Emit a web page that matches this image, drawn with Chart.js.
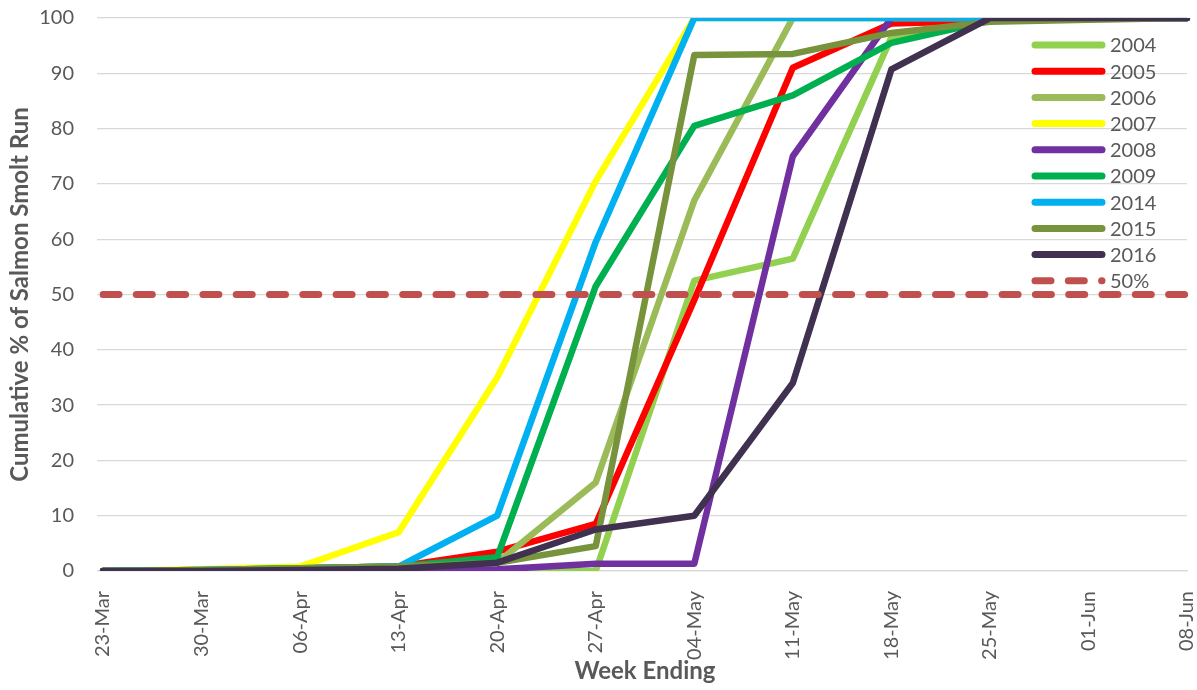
<!DOCTYPE html>
<html>
<head>
<meta charset="utf-8">
<script src="https://cdn.jsdelivr.net/npm/chart.js@4/dist/chart.umd.min.js"></script>
<style>
  html, body { margin: 0; padding: 0; background: #fff; }
  #wrap { width: 1197px; height: 690px; position: relative; }
</style>
</head>
<body>
<div id="wrap"><canvas id="smoltChart"></canvas></div>
<script>
var weeks = ["23-Mar", "30-Mar", "06-Apr", "13-Apr", "20-Apr", "27-Apr",
             "04-May", "11-May", "18-May", "25-May", "01-Jun", "08-Jun"];

var run2004 = [0, 0, 0, 0, 0, 0, 52.5, 56.5, 96.5, 99.5, 100, 100];
var run2005 = [0, 0.2, 0.5, 0.8, 3.5, 8.5, 49, 91, 99, 99.5, 100, 100];
var run2006 = [0, 0.2, 0.5, 0.8, 1.5, 16, 67, 100, 100, 100, 100, 100];
var run2007 = [0, 0.3, 0.8, 7, 35, 70.5, 100, 100, 100, 100, 100, 100];
var run2008 = [0, 0, 0, 0, 0.3, 1.3, 1.3, 75, 100, 100, 100, 100];
var run2009 = [0, 0.2, 0.5, 0.8, 2.5, 51.5, 80.5, 86, 95.5, 99.5, 100, 100];
var run2014 = [0, 0.2, 0.5, 0.8, 10, 59.5, 100, 100, 100, 100, 100, 100];
var run2015 = [0, 0.2, 0.5, 0.8, 1.5, 4.5, 93.3, 93.5, 97.3, 99.3, 99.7, 100];
var run2016 = [0, 0, 0.2, 0.4, 1.5, 7.5, 10, 34, 90.7, 100, 100, 100];
var halfRun = [50, 50, 50, 50, 50, 50, 50, 50, 50, 50, 50, 50];

var yTicks = [0, 10, 20, 30, 40, 50, 60, 70, 80, 90, 100];

var seriesLabels = ["2004", "2005", "2006", "2007", "2008", "2009", "2014", "2015", "2016", "50%"];
var seriesData = [run2004, run2005, run2006, run2007, run2008, run2009, run2014, run2015, run2016, halfRun];
var seriesColors = ["#92D050", "#FF0000", "#9BBB59", "#FFFF00", "#7030A0",
                    "#00B050", "#00B0F0", "#77933C", "#403151", "#C0504D"];

var textGrey = "#595959";
var gridGrey = "#d9d9d9";
var fontFamily = "Lato, 'Open Sans', sans-serif";

var datasets = seriesLabels.map(function (label, i) {
  var isHalf = label === "50%";
  return {
    label: label,
    data: seriesData[i],
    borderColor: seriesColors[i],
    backgroundColor: seriesColors[i],
    borderWidth: isHalf ? 7 : 6.5,
    borderDash: isHalf ? [16, 17.3] : [],
    borderCapStyle: "round",
    borderJoinStyle: "round",
    pointRadius: 0,
    tension: 0,
    fill: false,
    // later series sit on top
    order: seriesLabels.length - i
  };
});

// legend drawn over the plot, top right
var overlayLegend = {
  id: "overlayLegend",
  afterDraw: function (chart) {
    var ctx = chart.ctx;
    var area = chart.chartArea;
    var x0 = area.right - 152;
    ctx.save();
    ctx.font = "20px " + fontFamily;
    ctx.textBaseline = "middle";
    ctx.textAlign = "left";
    chart.data.datasets.forEach(function (ds, i) {
      var y = 45 + i * 26.2;
      ctx.beginPath();
      ctx.strokeStyle = ds.borderColor;
      ctx.lineWidth = 7;
      ctx.lineCap = "round";
      ctx.setLineDash(ds.borderDash || []);
      ctx.moveTo(x0, y);
      ctx.lineTo(x0 + 67, y);
      ctx.stroke();
      ctx.setLineDash([]);
      ctx.fillStyle = textGrey;
      ctx.fillText(ds.label, x0 + 75, y + 1);
    });
    ctx.restore();
  }
};

var ctx = document.getElementById("smoltChart");

var smoltChart = new Chart(ctx, {
  type: "line",
  data: {
    labels: weeks,
    datasets: datasets
  },
  options: {
    responsive: true,
    maintainAspectRatio: false,
    animation: false,
    layout: {
      padding: { top: 18, right: 10, bottom: 0, left: 0 }
    },
    plugins: {
      legend: { display: false },
      tooltip: { enabled: false }
    },
    scales: {
      x: {
        offset: false,
        grid: { display: false, drawTicks: false },
        border: { display: true, color: gridGrey, width: 1.3 },
        ticks: {
          color: textGrey,
          font: { family: fontFamily, size: 20 },
          autoSkip: false,
          minRotation: 90,
          maxRotation: 90,
          padding: 20
        },
        title: {
          display: true,
          text: "Week Ending",
          color: textGrey,
          font: { family: fontFamily, size: 24, weight: "bold" },
          padding: { top: 0, bottom: 4 }
        },
        afterFit: function (s) {
          s.height = 119;
          s.paddingLeft = 0;
          s.paddingRight = 0;
        }
      },
      y: {
        min: 0,
        max: 100,
        afterBuildTicks: function (s) {
          s.ticks = yTicks.map(function (v) { return { value: v }; });
        },
        grid: {
          color: gridGrey,
          lineWidth: 1.3,
          tickLength: 6,
          drawTicks: true
        },
        border: { display: false },
        ticks: {
          color: textGrey,
          font: { family: fontFamily, size: 20 },
          padding: 23
        },
        title: {
          display: true,
          text: "Cumulative % of Salmon Smolt Run",
          color: textGrey,
          font: { family: fontFamily, size: 24, weight: "bold" },
          padding: { top: 6, bottom: 0 }
        },
        afterFit: function (s) {
          s.width = 103;
          s.paddingTop = 0;
          s.paddingBottom = 0;
        }
      }
    }
  },
  plugins: [overlayLegend]
});
</script>
</body>
</html>
